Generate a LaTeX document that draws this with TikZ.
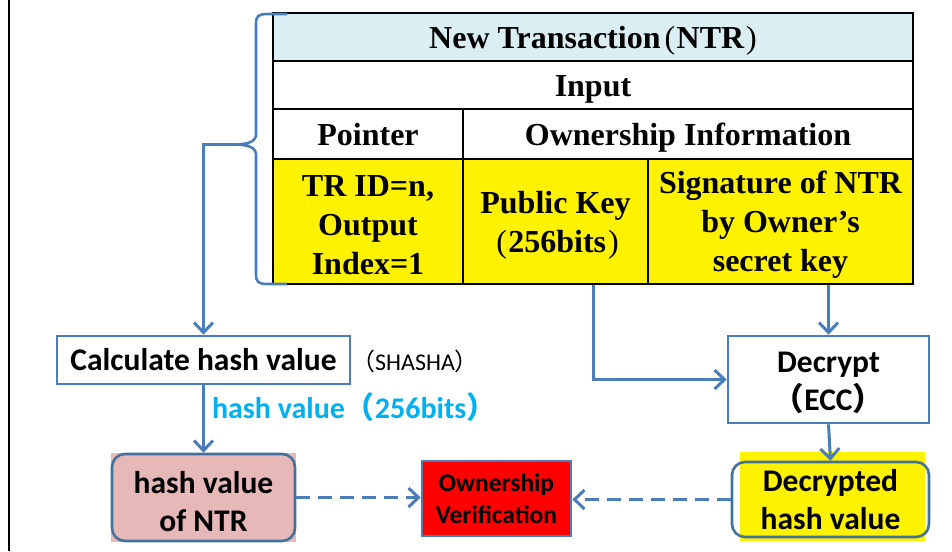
\documentclass[tikz,border=0pt]{standalone}
\usepackage{fontspec}
\setmainfont{Liberation Serif}
\newfontfamily\calfont{Carlito}
\newfontfamily\cjkfont{Noto Sans CJK JP}
\usetikzlibrary{arrows.meta,backgrounds,calc}
\definecolor{hdrblue}{HTML}{DAEEF3}
\definecolor{flowblue}{HTML}{4A7EBB}
\definecolor{boxblue}{HTML}{41719C}
\definecolor{pinkfill}{HTML}{E6B9B8}
\definecolor{labelcyan}{HTML}{00B0F0}
% full-width brackets for the sans labels, light serif brackets inside the table
\newcommand{\lpar}{{\cjkfont （}}
\newcommand{\rpar}{{\cjkfont ）}}
\newcommand{\tlpar}{\hspace{0.13em}{\mdseries(}\hspace{0.04em}}
\newcommand{\trpar}{\hspace{0.06em}{\mdseries)}}
\tikzset{
  tabfont/.style={font=\fontsize{32}{39}\selectfont\bfseries},
  cell/.style={draw=black, line width=1.2pt, inner sep=0pt, align=center, tabfont},
  cellone/.style={cell, text height=23pt, text depth=0pt},
  celltext/.style={inner sep=0pt, align=center, tabfont},
  calfontbig/.style={font=\calfont\fontsize{31.5}{38}\selectfont\bfseries},
  flowbox/.style={draw=flowblue, line width=2.6pt, fill=white, inner sep=0pt, align=center, calfontbig},
  boxtext/.style={inner sep=0pt, align=center, calfontbig},
  roundbox/.style={flowbox, draw=boxblue, rounded corners=13pt},
  flow/.style={draw=flowblue, line width=3pt, -{Straight Barb[length=10pt,width=19pt]}},
  dflow/.style={flow, dash pattern=on 14pt off 8pt},
}
\begin{document}
\begin{tikzpicture}[x=1pt,y=-1pt]
\useasboundingbox (0,0) rectangle (952,551);
% left margin rule
\draw[line width=2pt] (8.5,0) -- (8.5,551);

% transaction table
\node[cellone, fill=hdrblue, minimum width=640pt, minimum height=48pt] (title) at (593,37)
  {New Transaction\tlpar NTR\trpar};
\node[cellone, fill=white, minimum width=640pt, minimum height=48pt] (input) at (593,85) {Input};
\node[cellone, fill=white, minimum width=190pt, minimum height=50pt] (pointer) at (368,134) {Pointer};
\node[cellone, fill=white, minimum width=450pt, minimum height=50pt] (owninfo) at (688,134) {Ownership Information};
\node[cell, fill=yellow, minimum width=190pt, minimum height=125pt,
  label={[celltext, yshift=-3.5pt]center:{TR ID=n,\\Output\\Index=1}}] (trid) at (368,221.5) {};
\node[cell, fill=yellow, minimum width=185pt, minimum height=125pt,
  label={[celltext, yshift=-3.5pt]center:{Public Key\\\tlpar 256bits\trpar}}] (pubkey) at (555.5,221.5) {};
\node[cell, fill=yellow, minimum width=265pt, minimum height=125pt,
  label={[celltext, yshift=-3.5pt]center:{Signature of NTR\\by Owner’s\\secret key}}] (sig) at (780.5,221.5) {};

% brace grouping the table
\coordinate (brtip) at (233,144.5);
\draw[draw=flowblue, line width=2.6pt]
  (287,14) -- (268,14) .. controls (258,14) and (256,16) .. (256,24) -- (256,134)
  .. controls (256,141) and (250,144.5) .. (brtip)
  .. controls (250,144.5) and (256,148) .. (256,155) -- (256,274)
  .. controls (256,282) and (258,284) .. (268,284) -- (287,284);

% processing boxes
\node[flowbox, minimum width=293pt, minimum height=48pt] (calc) at (203.5,360) {Calculate hash value};
\node[anchor=west, inner sep=0pt, font=\calfont\fontsize{24}{28}\selectfont] (sha) at (351,361)
  {\lpar SHASHA\rpar};
\node[flowbox, minimum width=201pt, minimum height=87pt,
  label={[boxtext, yshift=-3pt]center:{Decrypt\\\lpar ECC\rpar}}] (decrypt) at (828.5,379.5) {};

% result boxes
\node[roundbox, fill=pinkfill, minimum width=183pt, minimum height=87pt,
  label={[boxtext, yshift=-4pt]center:{hash value\\of NTR}}] (hashntr) at (203.5,497.5) {};
\begin{scope}[on background layer]
  \fill[pinkfill] (hashntr.north west) rectangle (hashntr.south east);
\end{scope}
\node[flowbox, fill=red, minimum width=149pt, minimum height=75pt,
  font=\calfont\fontsize{25.5}{32}\selectfont\bfseries] (own) at (496.5,498.5)
  {Ownership\\Verification};
\node[roundbox, fill=none, minimum width=197pt, minimum height=75pt] (decrypted) at (830.5,499.5)
  {Decrypted\\hash value};
\begin{scope}[on background layer]
  \fill[yellow] ([xshift=9pt,yshift=9pt]decrypted.north west) rectangle ([xshift=-5pt,yshift=-3pt]decrypted.south east);
\end{scope}

% connectors
\draw[flow] (brtip) -| (calc.north);
\draw[flow] (calc.south) -- (hashntr.north)
  node[pos=0.33, anchor=west, inner sep=0pt, xshift=7pt, text=labelcyan,
    font=\calfont\fontsize{30}{36}\selectfont\bfseries] (hvlabel) {hash value\lpar 256bits\rpar};
\draw[flow] ([xshift=37.5pt]pubkey.south) |- (decrypt.west);
\draw[flow] (sig.south -| decrypt.north) -- (decrypt.north);
\draw[flow] (decrypt.south) -- (decrypted.north);
\draw[dflow] (hashntr.east) -- (hashntr.east -| own.west);
\draw[dflow] (decrypted.west) -- (decrypted.west -| own.east);
\end{tikzpicture}
\end{document}
